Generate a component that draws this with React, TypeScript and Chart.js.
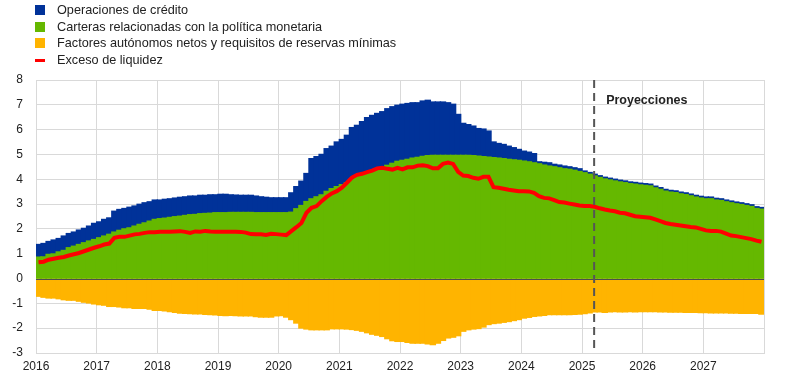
import React, { useEffect, useRef } from "react";
import { Chart, registerables } from "chart.js";

Chart.register(...registerables);

// Months since January 2016 (one bar per month, 2016-01 .. 2027-12)
const yearLabels = ["2016", "2017", "2018", "2019", "2020", "2021", "2022", "2023", "2024", "2025", "2026", "2027"];

const seriesNames = [
  "Operaciones de crédito",
  "Carteras relacionadas con la política monetaria",
  "Factores autónomos netos y requisitos de reservas mínimas",
  "Exceso de liquidez",
];

const creditOperations = [
  0.51, 0.54, 0.52, 0.56, 0.54, 0.58, 0.57, 0.57, 0.58, 0.58, 0.60, 0.65,
  0.64, 0.67, 0.66, 0.84, 0.84, 0.82, 0.83, 0.81, 0.81, 0.81, 0.78, 0.78,
  0.75, 0.76, 0.75, 0.75, 0.76, 0.75, 0.75, 0.74, 0.74, 0.73, 0.74, 0.72,
  0.74, 0.74, 0.71, 0.70, 0.69, 0.69, 0.69, 0.67, 0.64, 0.62, 0.60, 0.60,
  0.60, 0.60, 0.78, 0.89, 0.98, 1.13, 1.62, 1.62, 1.63, 1.72, 1.71, 1.80,
  1.82, 1.91, 2.09, 2.07, 2.13, 2.22, 2.26, 2.26, 2.26, 2.28, 2.28, 2.26,
  2.26, 2.25, 2.23, 2.20, 2.23, 2.23, 2.15, 2.15, 2.15, 2.12, 2.06, 1.65,
  1.29, 1.24, 1.19, 1.11, 1.11, 1.05, 0.63, 0.59, 0.57, 0.53, 0.49, 0.44,
  0.40, 0.39, 0.37, 0.08, 0.11, 0.13, 0.10, 0.11, 0.11, 0.10, 0.10, 0.11,
  0.07, 0.07, 0.07, 0.07, 0.07, 0.07, 0.07, 0.07, 0.07, 0.07, 0.07, 0.07,
  0.07, 0.07, 0.07, 0.07, 0.07, 0.07, 0.07, 0.07, 0.07, 0.07, 0.07, 0.07,
  0.07, 0.07, 0.07, 0.07, 0.07, 0.07, 0.07, 0.07, 0.07, 0.07, 0.07, 0.07,
];

const policyPortfolios = [
  0.86, 0.87, 0.97, 0.99, 1.07, 1.13, 1.24, 1.30, 1.37, 1.44, 1.51, 1.57,
  1.64, 1.71, 1.78, 1.87, 1.94, 2.00, 2.04, 2.11, 2.18, 2.24, 2.31, 2.38,
  2.41, 2.43, 2.46, 2.49, 2.51, 2.54, 2.57, 2.58, 2.61, 2.62, 2.63, 2.65,
  2.65, 2.65, 2.66, 2.66, 2.66, 2.66, 2.66, 2.65, 2.65, 2.65, 2.65, 2.65,
  2.65, 2.65, 2.67, 2.81, 2.94, 3.10, 3.21, 3.29, 3.37, 3.51, 3.62, 3.70,
  3.78, 3.86, 3.99, 4.10, 4.19, 4.26, 4.31, 4.39, 4.46, 4.56, 4.64, 4.72,
  4.76, 4.80, 4.85, 4.88, 4.92, 4.95, 4.96, 4.96, 4.96, 4.96, 4.96, 4.96,
  4.96, 4.96, 4.95, 4.93, 4.91, 4.89, 4.87, 4.85, 4.83, 4.80, 4.78, 4.76,
  4.73, 4.70, 4.66, 4.62, 4.57, 4.53, 4.50, 4.46, 4.42, 4.40, 4.36, 4.31,
  4.26, 4.20, 4.13, 4.07, 4.01, 3.97, 3.93, 3.89, 3.86, 3.82, 3.80, 3.77,
  3.75, 3.73, 3.65, 3.59, 3.52, 3.48, 3.46, 3.41, 3.38, 3.33, 3.28, 3.24,
  3.21, 3.21, 3.16, 3.14, 3.09, 3.05, 3.01, 2.98, 2.94, 2.90, 2.82, 2.79,
];

const autonomousFactors = [
  -0.71, -0.75, -0.78, -0.78, -0.81, -0.85, -0.87, -0.87, -0.91, -0.95, -0.98, -1.02,
  -1.05, -1.07, -1.12, -1.12, -1.14, -1.17, -1.17, -1.20, -1.20, -1.20, -1.23, -1.28,
  -1.28, -1.30, -1.33, -1.36, -1.39, -1.40, -1.41, -1.42, -1.42, -1.44, -1.45, -1.46,
  -1.48, -1.49, -1.48, -1.49, -1.50, -1.50, -1.50, -1.53, -1.55, -1.55, -1.55, -1.50,
  -1.49, -1.55, -1.65, -1.79, -1.99, -2.03, -2.06, -2.06, -2.06, -2.06, -2.02, -2.02,
  -2.02, -2.03, -2.05, -2.08, -2.12, -2.18, -2.24, -2.28, -2.33, -2.42, -2.50, -2.53,
  -2.53, -2.57, -2.60, -2.60, -2.60, -2.63, -2.66, -2.60, -2.49, -2.39, -2.36, -2.30,
  -2.12, -2.06, -2.03, -2.01, -1.95, -1.85, -1.81, -1.79, -1.76, -1.73, -1.69, -1.65,
  -1.59, -1.56, -1.52, -1.50, -1.48, -1.45, -1.45, -1.45, -1.45, -1.45, -1.44, -1.43,
  -1.41, -1.38, -1.34, -1.34, -1.36, -1.34, -1.33, -1.34, -1.34, -1.33, -1.34, -1.33,
  -1.33, -1.33, -1.33, -1.34, -1.34, -1.35, -1.35, -1.35, -1.36, -1.36, -1.36, -1.37,
  -1.37, -1.38, -1.38, -1.38, -1.38, -1.39, -1.39, -1.40, -1.40, -1.40, -1.40, -1.43,
];

const excessLiquidity = [
  0.66, 0.68, 0.76, 0.80, 0.84, 0.87, 0.93, 0.98, 1.03, 1.10, 1.17, 1.24,
  1.30, 1.37, 1.41, 1.64, 1.68, 1.68, 1.73, 1.78, 1.80, 1.84, 1.87, 1.87,
  1.89, 1.89, 1.89, 1.90, 1.91, 1.88, 1.84, 1.90, 1.89, 1.92, 1.90, 1.89,
  1.89, 1.89, 1.89, 1.89, 1.88, 1.85, 1.79, 1.78, 1.78, 1.76, 1.80, 1.79,
  1.77, 1.75, 1.91, 2.07, 2.24, 2.65, 2.85, 2.92, 3.12, 3.29, 3.43, 3.52,
  3.66, 3.86, 4.07, 4.18, 4.22, 4.29, 4.35, 4.44, 4.46, 4.42, 4.39, 4.46,
  4.40, 4.48, 4.48, 4.55, 4.56, 4.53, 4.44, 4.44, 4.62, 4.67, 4.62, 4.30,
  4.15, 4.13, 4.06, 4.02, 4.10, 4.10, 3.68, 3.66, 3.62, 3.58, 3.55, 3.52,
  3.52, 3.51, 3.45, 3.32, 3.25, 3.23, 3.16, 3.08, 3.06, 3.02, 2.98, 2.94,
  2.92, 2.92, 2.89, 2.83, 2.78, 2.74, 2.71, 2.65, 2.63, 2.57, 2.51, 2.49,
  2.47, 2.45, 2.38, 2.31, 2.24, 2.20, 2.17, 2.14, 2.11, 2.08, 2.06, 2.00,
  1.94, 1.92, 1.92, 1.89, 1.81, 1.73, 1.71, 1.67, 1.63, 1.59, 1.53, 1.48,
];

const yTicks = [-3, -2, -1, 0, 1, 2, 3, 4, 5, 6, 7, 8];
const projectionStart = 110.4; // months since Jan 2016 (mid-March 2025)
const projectionLabel = "Proyecciones";

const COLORS = {
  credit: "#003299",
  portfolios: "#65b800",
  autonomous: "#ffb400",
  excess: "#ff0000",
  grid: "#d9d9d9",
  zero: "#4d4d4d",
  dash: "#555555",
  text: "#222222",
};

const FONT = "'Liberation Sans', Arial, Helvetica, sans-serif";

const overlayPlugin = {
  id: "overlay",
  afterDatasetsDraw(chart: any) {
    const { ctx, chartArea, scales } = chart;
    const y0 = Math.round(scales.y.getPixelForValue(0)) + 0.5;
    ctx.save();
    ctx.strokeStyle = COLORS.zero;
    ctx.lineWidth = 1;
    ctx.beginPath();
    ctx.moveTo(chartArea.left, y0);
    ctx.lineTo(chartArea.right, y0);
    ctx.stroke();

    const xp = scales.x.getPixelForValue(projectionStart);
    ctx.strokeStyle = COLORS.dash;
    ctx.lineWidth = 2;
    ctx.setLineDash([8, 5]);
    ctx.beginPath();
    ctx.moveTo(xp, chartArea.top);
    ctx.lineTo(xp, chartArea.bottom);
    ctx.stroke();
    ctx.setLineDash([]);

    ctx.fillStyle = COLORS.text;
    ctx.font = `bold 12.5px ${FONT}`;
    ctx.textAlign = "left";
    ctx.textBaseline = "middle";
    ctx.fillText(projectionLabel, xp + 12, chartArea.top + 21);
    ctx.restore();
  },
};

export default function App() {
  const ref = useRef<HTMLCanvasElement>(null);

  useEffect(() => {
    const toPoints = (arr: number[]) => arr.map((v, i) => ({ x: i + 0.5, y: v }));
    const barCommon = {
      type: "bar" as const,
      stack: "bars",
      barPercentage: 1,
      categoryPercentage: 1,
      borderWidth: 0,
      inflateAmount: 0.7,
      order: 1,
    };
    const chart = new Chart(ref.current as HTMLCanvasElement, {
      type: "bar",
      data: {
        datasets: [
          {
            type: "line",
            label: seriesNames[3],
            data: toPoints(excessLiquidity),
            borderColor: COLORS.excess,
            borderWidth: 4,
            pointRadius: 0,
            tension: 0,
            fill: false,
            stack: "line",
            order: 0,
          } as any,
          { ...barCommon, label: seriesNames[1], data: toPoints(policyPortfolios), backgroundColor: COLORS.portfolios },
          { ...barCommon, label: seriesNames[0], data: toPoints(creditOperations), backgroundColor: COLORS.credit },
          { ...barCommon, label: seriesNames[2], data: toPoints(autonomousFactors), backgroundColor: COLORS.autonomous },
        ],
      },
      options: {
        responsive: false,
        animation: false,
        devicePixelRatio: 1,
        layout: { padding: { top: 80, right: 24, bottom: 0, left: 0 } },
        plugins: { legend: { display: false }, tooltip: { enabled: false } },
        scales: {
          x: {
            type: "linear",
            stacked: true,
            min: 0,
            max: yearLabels.length * 12,
            offset: false,
            grid: { color: COLORS.grid, lineWidth: 1, drawTicks: false, offset: false },
            border: { color: COLORS.grid },
            afterBuildTicks: (scale: any) => {
              scale.ticks = yearLabels.map((_, i) => ({ value: i * 12 })).concat([{ value: yearLabels.length * 12 }]);
            },
            afterFit: (scale: any) => {
              scale.height = 26;
            },
            ticks: {
              autoSkip: false,
              maxRotation: 0,
              padding: 6,
              color: COLORS.text,
              font: { family: FONT, size: 12 },
              callback: (v: any) => yearLabels[Math.round(Number(v) / 12)] ?? "",
            },
          },
          y: {
            stacked: true,
            min: yTicks[0],
            max: yTicks[yTicks.length - 1],
            grid: { color: COLORS.grid, lineWidth: 1, drawTicks: false },
            border: { color: COLORS.grid },
            afterBuildTicks: (scale: any) => {
              scale.ticks = yTicks.map((v) => ({ value: v }));
            },
            afterFit: (scale: any) => {
              scale.width = 36;
            },
            ticks: {
              padding: 13,
              color: COLORS.text,
              font: { family: FONT, size: 12 },
            },
          },
        },
      },
      plugins: [overlayPlugin],
    } as any);
    return () => chart.destroy();
  }, []);

  const legendItems = [
    { label: seriesNames[0], color: COLORS.credit, kind: "box" },
    { label: seriesNames[1], color: COLORS.portfolios, kind: "box" },
    { label: seriesNames[2], color: COLORS.autonomous, kind: "box" },
    { label: seriesNames[3], color: COLORS.excess, kind: "line" },
  ];

  return (
    <div style={{ position: "fixed", left: 0, top: 0, width: 788, height: 379, background: "#ffffff", overflow: "hidden" }}>
      <canvas ref={ref} width={788} height={379} style={{ position: "absolute", left: 0, top: 0 }} />
      {legendItems.map((it, i) => (
        <div
          key={it.label}
          style={{
            position: "absolute",
            left: 35,
            top: 2 + i * 16.7,
            height: 16,
            display: "flex",
            alignItems: "center",
            fontFamily: FONT,
            fontSize: 12.7,
            color: COLORS.text,
            whiteSpace: "nowrap",
          }}
        >
          <span
            style={{
              display: "inline-block",
              width: 10,
              height: it.kind === "box" ? 10 : 3,
              background: it.color,
              marginRight: 12,
            }}
          />
          <span>{it.label}</span>
        </div>
      ))}
    </div>
  );
}
